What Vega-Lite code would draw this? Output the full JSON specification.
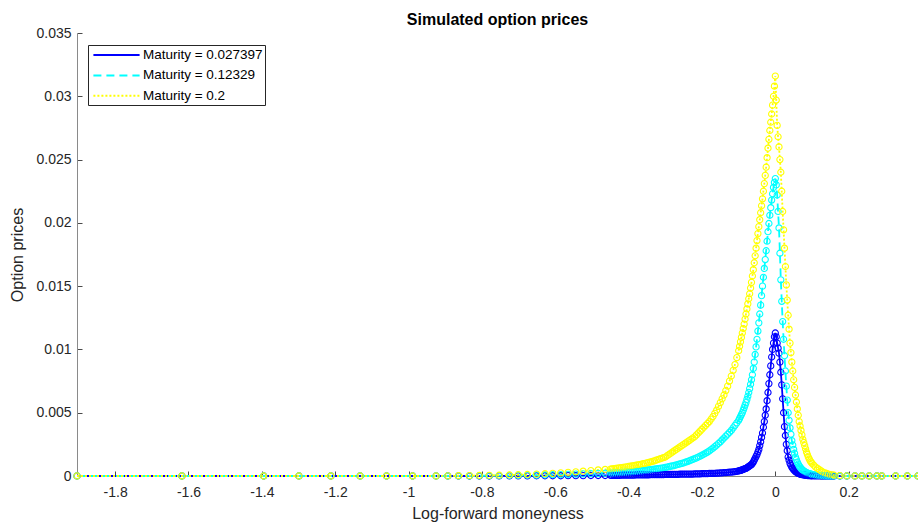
{
  "$schema": "https://vega.github.io/schema/vega-lite/v6.json",
  "width": 841,
  "height": 443,
  "autosize": {"type": "none"},
  "padding": {"left": 77, "top": 33, "right": 0, "bottom": 49},
  "background": "white",
  "config": {
    "font": "Liberation Sans",
    "view": {"stroke": null},
    "axis": {
      "grid": false,
      "domainColor": "#8a8a8a",
      "domainWidth": 1,
      "tickColor": "#4a4a4a",
      "tickWidth": 1,
      "tickSize": -5,
      "labelColor": "#262626",
      "labelFontSize": 14,
      "titleColor": "#262626",
      "titleFontSize": 16,
      "titleFontWeight": "normal"
    },
    "legend": {
      "orient": "none",
      "legendX": 11,
      "legendY": 12,
      "strokeColor": "#262626",
      "fillColor": "white",
      "padding": 2,
      "rowPadding": 5.4,
      "symbolType": "M-3.3,0H3.3",
      "symbolSize": 196,
      "symbolStrokeWidth": 2,
      "symbolOffset": 18.5,
      "labelOffset": 18.4,
      "labelFontSize": 13.5,
      "labelColor": "black",
      "title": null
    }
  },
  "title": {
    "text": "Simulated option prices",
    "fontSize": 16,
    "fontWeight": "bold",
    "color": "black",
    "anchor": "middle",
    "offset": -2
  },
  "data": {
    "values": [
      {"x": -1.904, "a": 0, "b": 0, "c": 0},
      {"x": -1.618, "a": 0, "b": 0, "c": 0},
      {"x": -1.395, "a": 0, "b": 0, "c": 0},
      {"x": -1.299, "a": 0, "b": 0, "c": 0},
      {"x": -1.212, "a": 0, "b": 0, "c": 0},
      {"x": -1.132, "a": 0, "b": 0, "c": 0},
      {"x": -1.06, "a": 0, "b": 0, "c": 0},
      {"x": -0.989, "a": 0, "b": 0, "c": 0},
      {"x": -0.925, "a": 0, "b": 0, "c": 0},
      {"x": -0.893, "a": 0, "b": 0, "c": 0.00001},
      {"x": -0.864, "a": 0, "b": 0.00001, "c": 0.00002},
      {"x": -0.834, "a": 0, "b": 0.00001, "c": 0.00003},
      {"x": -0.807, "a": 0, "b": 0.00002, "c": 0.00004},
      {"x": -0.78, "a": 0, "b": 0.00002, "c": 0.00005},
      {"x": -0.753, "a": 0.00001, "b": 0.00003, "c": 0.00006},
      {"x": -0.725, "a": 0.00001, "b": 0.00004, "c": 0.00008},
      {"x": -0.701, "a": 0.00001, "b": 0.00005, "c": 0.0001},
      {"x": -0.676, "a": 0.00001, "b": 0.00006, "c": 0.00012},
      {"x": -0.651, "a": 0.00002, "b": 0.00007, "c": 0.00015},
      {"x": -0.628, "a": 0.00002, "b": 0.00008, "c": 0.00018},
      {"x": -0.607, "a": 0.00002, "b": 0.0001, "c": 0.00021},
      {"x": -0.585, "a": 0.00002, "b": 0.00011, "c": 0.00025},
      {"x": -0.565, "a": 0.00003, "b": 0.00013, "c": 0.00029},
      {"x": -0.544, "a": 0.00003, "b": 0.00015, "c": 0.00033},
      {"x": -0.524, "a": 0.00003, "b": 0.00017, "c": 0.00038},
      {"x": -0.503, "a": 0.00004, "b": 0.00019, "c": 0.00043},
      {"x": -0.483, "a": 0.00004, "b": 0.00021, "c": 0.00048},
      {"x": -0.464, "a": 0.00004, "b": 0.00022, "c": 0.00052},
      {"x": -0.449, "a": 0.00005, "b": 0.00023, "c": 0.00055},
      {"x": -0.445, "a": 0.00005, "b": 0.00023, "c": 0.00056},
      {"x": -0.44, "a": 0.00005, "b": 0.00024, "c": 0.00058},
      {"x": -0.435, "a": 0.00005, "b": 0.00025, "c": 0.0006},
      {"x": -0.43, "a": 0.00005, "b": 0.00026, "c": 0.00062},
      {"x": -0.425, "a": 0.00005, "b": 0.00027, "c": 0.00064},
      {"x": -0.42, "a": 0.00006, "b": 0.00028, "c": 0.00066},
      {"x": -0.415, "a": 0.00006, "b": 0.00029, "c": 0.00068},
      {"x": -0.41, "a": 0.00006, "b": 0.0003, "c": 0.0007},
      {"x": -0.405, "a": 0.00006, "b": 0.00031, "c": 0.00072},
      {"x": -0.4, "a": 0.00007, "b": 0.00032, "c": 0.00075},
      {"x": -0.395, "a": 0.00007, "b": 0.00033, "c": 0.00077},
      {"x": -0.39, "a": 0.00007, "b": 0.00034, "c": 0.0008},
      {"x": -0.385, "a": 0.00007, "b": 0.00035, "c": 0.00082},
      {"x": -0.38, "a": 0.00008, "b": 0.00037, "c": 0.00085},
      {"x": -0.375, "a": 0.00008, "b": 0.00038, "c": 0.00087},
      {"x": -0.37, "a": 0.00008, "b": 0.0004, "c": 0.0009},
      {"x": -0.365, "a": 0.00008, "b": 0.00041, "c": 0.00093},
      {"x": -0.36, "a": 0.00009, "b": 0.00043, "c": 0.00097},
      {"x": -0.355, "a": 0.00009, "b": 0.00044, "c": 0.001},
      {"x": -0.35, "a": 0.00009, "b": 0.00046, "c": 0.00104},
      {"x": -0.345, "a": 0.00009, "b": 0.00048, "c": 0.00108},
      {"x": -0.34, "a": 0.0001, "b": 0.0005, "c": 0.00112},
      {"x": -0.335, "a": 0.0001, "b": 0.00052, "c": 0.00116},
      {"x": -0.33, "a": 0.0001, "b": 0.00054, "c": 0.0012},
      {"x": -0.325, "a": 0.0001, "b": 0.00056, "c": 0.00125},
      {"x": -0.32, "a": 0.00011, "b": 0.00058, "c": 0.0013},
      {"x": -0.315, "a": 0.00011, "b": 0.0006, "c": 0.00135},
      {"x": -0.31, "a": 0.00011, "b": 0.00063, "c": 0.0014},
      {"x": -0.305, "a": 0.00011, "b": 0.00065, "c": 0.00145},
      {"x": -0.3, "a": 0.00012, "b": 0.00068, "c": 0.0015},
      {"x": -0.295, "a": 0.00012, "b": 0.00071, "c": 0.0016},
      {"x": -0.29, "a": 0.00012, "b": 0.00074, "c": 0.0017},
      {"x": -0.285, "a": 0.00012, "b": 0.00077, "c": 0.0018},
      {"x": -0.28, "a": 0.00013, "b": 0.0008, "c": 0.0019},
      {"x": -0.275, "a": 0.00013, "b": 0.00083, "c": 0.002},
      {"x": -0.27, "a": 0.00013, "b": 0.00087, "c": 0.0021},
      {"x": -0.265, "a": 0.00013, "b": 0.00091, "c": 0.0022},
      {"x": -0.26, "a": 0.00014, "b": 0.00095, "c": 0.0023},
      {"x": -0.255, "a": 0.00014, "b": 0.001, "c": 0.0024},
      {"x": -0.25, "a": 0.00014, "b": 0.00104, "c": 0.0025},
      {"x": -0.245, "a": 0.00014, "b": 0.00109, "c": 0.0026},
      {"x": -0.24, "a": 0.00015, "b": 0.00114, "c": 0.0027},
      {"x": -0.235, "a": 0.00015, "b": 0.0012, "c": 0.0028},
      {"x": -0.23, "a": 0.00015, "b": 0.00125, "c": 0.0029},
      {"x": -0.225, "a": 0.00015, "b": 0.00131, "c": 0.003},
      {"x": -0.22, "a": 0.00016, "b": 0.00137, "c": 0.0031},
      {"x": -0.215, "a": 0.00016, "b": 0.00143, "c": 0.00325},
      {"x": -0.21, "a": 0.00017, "b": 0.0015, "c": 0.0034},
      {"x": -0.205, "a": 0.00017, "b": 0.00157, "c": 0.00355},
      {"x": -0.2, "a": 0.00018, "b": 0.00164, "c": 0.0037},
      {"x": -0.195, "a": 0.00018, "b": 0.00172, "c": 0.00385},
      {"x": -0.19, "a": 0.00019, "b": 0.0018, "c": 0.004},
      {"x": -0.185, "a": 0.00019, "b": 0.00189, "c": 0.00415},
      {"x": -0.18, "a": 0.0002, "b": 0.00198, "c": 0.0043},
      {"x": -0.175, "a": 0.0002, "b": 0.00209, "c": 0.0045},
      {"x": -0.17, "a": 0.00021, "b": 0.0022, "c": 0.0047},
      {"x": -0.165, "a": 0.00021, "b": 0.00232, "c": 0.00495},
      {"x": -0.16, "a": 0.00022, "b": 0.00244, "c": 0.0052},
      {"x": -0.155, "a": 0.00023, "b": 0.00257, "c": 0.0055},
      {"x": -0.15, "a": 0.00024, "b": 0.0027, "c": 0.0058},
      {"x": -0.145, "a": 0.00025, "b": 0.00285, "c": 0.0061},
      {"x": -0.14, "a": 0.00026, "b": 0.003, "c": 0.0064},
      {"x": -0.135, "a": 0.00027, "b": 0.00315, "c": 0.00675},
      {"x": -0.13, "a": 0.00028, "b": 0.0033, "c": 0.0071},
      {"x": -0.125, "a": 0.0003, "b": 0.00345, "c": 0.0075},
      {"x": -0.12, "a": 0.00031, "b": 0.0036, "c": 0.0079},
      {"x": -0.115, "a": 0.00033, "b": 0.0038, "c": 0.00835},
      {"x": -0.11, "a": 0.00035, "b": 0.004, "c": 0.0088},
      {"x": -0.105, "a": 0.00037, "b": 0.0042, "c": 0.00935},
      {"x": -0.1, "a": 0.0004, "b": 0.0044, "c": 0.0099},
      {"x": -0.0975, "a": 0.00042, "b": 0.00455, "c": 0.01025},
      {"x": -0.095, "a": 0.00044, "b": 0.0047, "c": 0.0106},
      {"x": -0.0925, "a": 0.00046, "b": 0.00485, "c": 0.01095},
      {"x": -0.09, "a": 0.00049, "b": 0.005, "c": 0.0113},
      {"x": -0.0875, "a": 0.00052, "b": 0.0052, "c": 0.01165},
      {"x": -0.085, "a": 0.00055, "b": 0.0054, "c": 0.012},
      {"x": -0.0825, "a": 0.00058, "b": 0.0056, "c": 0.0124},
      {"x": -0.08, "a": 0.0006, "b": 0.0058, "c": 0.0128},
      {"x": -0.0775, "a": 0.00065, "b": 0.00605, "c": 0.0132},
      {"x": -0.075, "a": 0.0007, "b": 0.0063, "c": 0.0136},
      {"x": -0.0725, "a": 0.00075, "b": 0.0066, "c": 0.014},
      {"x": -0.07, "a": 0.0008, "b": 0.0069, "c": 0.0144},
      {"x": -0.0675, "a": 0.00085, "b": 0.00725, "c": 0.01485},
      {"x": -0.065, "a": 0.0009, "b": 0.0076, "c": 0.0153},
      {"x": -0.0625, "a": 0.001, "b": 0.008, "c": 0.0158},
      {"x": -0.06, "a": 0.0011, "b": 0.0085, "c": 0.0163},
      {"x": -0.0575, "a": 0.00125, "b": 0.009, "c": 0.01685},
      {"x": -0.055, "a": 0.0014, "b": 0.0096, "c": 0.0174},
      {"x": -0.0525, "a": 0.00155, "b": 0.0102, "c": 0.018},
      {"x": -0.05, "a": 0.0017, "b": 0.0108, "c": 0.0186},
      {"x": -0.0475, "a": 0.0019, "b": 0.01145, "c": 0.01915},
      {"x": -0.045, "a": 0.0021, "b": 0.0121, "c": 0.0197},
      {"x": -0.0425, "a": 0.0024, "b": 0.0128, "c": 0.02025},
      {"x": -0.04, "a": 0.0027, "b": 0.0135, "c": 0.0208},
      {"x": -0.0375, "a": 0.00305, "b": 0.01425, "c": 0.02135},
      {"x": -0.035, "a": 0.0034, "b": 0.015, "c": 0.0219},
      {"x": -0.0325, "a": 0.00385, "b": 0.0157, "c": 0.0225},
      {"x": -0.03, "a": 0.0043, "b": 0.0164, "c": 0.0231},
      {"x": -0.0275, "a": 0.0048, "b": 0.0171, "c": 0.02375},
      {"x": -0.025, "a": 0.0053, "b": 0.0178, "c": 0.0244},
      {"x": -0.0225, "a": 0.00595, "b": 0.01855, "c": 0.02515},
      {"x": -0.02, "a": 0.0066, "b": 0.0193, "c": 0.0259},
      {"x": -0.0175, "a": 0.0073, "b": 0.01995, "c": 0.0266},
      {"x": -0.015, "a": 0.008, "b": 0.0206, "c": 0.0273},
      {"x": -0.0125, "a": 0.0087, "b": 0.0212, "c": 0.02795},
      {"x": -0.01, "a": 0.0094, "b": 0.0218, "c": 0.0286},
      {"x": -0.0075, "a": 0.01, "b": 0.0223, "c": 0.0293},
      {"x": -0.005, "a": 0.0105, "b": 0.0228, "c": 0.03},
      {"x": -0.0025, "a": 0.011, "b": 0.0232, "c": 0.0308},
      {"x": 0, "a": 0.0113, "b": 0.0235, "c": 0.0316},
      {"x": 0.0025, "a": 0.011, "b": 0.023, "c": 0.0297},
      {"x": 0.005, "a": 0.0105, "b": 0.0222, "c": 0.0277},
      {"x": 0.0075, "a": 0.0101, "b": 0.0209, "c": 0.0268},
      {"x": 0.01, "a": 0.0097, "b": 0.0196, "c": 0.026},
      {"x": 0.0125, "a": 0.009, "b": 0.0176, "c": 0.025},
      {"x": 0.015, "a": 0.0082, "b": 0.0155, "c": 0.024},
      {"x": 0.0175, "a": 0.0072, "b": 0.0138, "c": 0.0225},
      {"x": 0.02, "a": 0.0061, "b": 0.0122, "c": 0.0209},
      {"x": 0.0225, "a": 0.005, "b": 0.0108, "c": 0.01945},
      {"x": 0.025, "a": 0.0039, "b": 0.0095, "c": 0.018},
      {"x": 0.0275, "a": 0.0032, "b": 0.0083, "c": 0.01655},
      {"x": 0.03, "a": 0.0025, "b": 0.0071, "c": 0.0151},
      {"x": 0.0325, "a": 0.002, "b": 0.006, "c": 0.0139},
      {"x": 0.035, "a": 0.0015, "b": 0.005, "c": 0.0127},
      {"x": 0.0375, "a": 0.00125, "b": 0.0044, "c": 0.0116},
      {"x": 0.04, "a": 0.001, "b": 0.0038, "c": 0.0105},
      {"x": 0.0425, "a": 0.00085, "b": 0.0033, "c": 0.00975},
      {"x": 0.045, "a": 0.0007, "b": 0.0028, "c": 0.009},
      {"x": 0.0475, "a": 0.0006, "b": 0.00245, "c": 0.0083},
      {"x": 0.05, "a": 0.0005, "b": 0.0021, "c": 0.0076},
      {"x": 0.0525, "a": 0.00042, "b": 0.0018, "c": 0.007},
      {"x": 0.055, "a": 0.00035, "b": 0.0015, "c": 0.0064},
      {"x": 0.0575, "a": 0.0003, "b": 0.0013, "c": 0.00585},
      {"x": 0.06, "a": 0.00025, "b": 0.0011, "c": 0.0053},
      {"x": 0.0625, "a": 0.00021, "b": 0.00095, "c": 0.0048},
      {"x": 0.065, "a": 0.00018, "b": 0.0008, "c": 0.0043},
      {"x": 0.0675, "a": 0.00015, "b": 0.0007, "c": 0.00395},
      {"x": 0.07, "a": 0.00013, "b": 0.0006, "c": 0.0036},
      {"x": 0.0725, "a": 0.00011, "b": 0.00052, "c": 0.00325},
      {"x": 0.075, "a": 0.0001, "b": 0.00045, "c": 0.0029},
      {"x": 0.0775, "a": 0.00008, "b": 0.0004, "c": 0.00265},
      {"x": 0.08, "a": 0.00007, "b": 0.00035, "c": 0.0024},
      {"x": 0.0825, "a": 0.00006, "b": 0.00031, "c": 0.00215},
      {"x": 0.085, "a": 0.00005, "b": 0.00027, "c": 0.0019},
      {"x": 0.0875, "a": 0.00004, "b": 0.00023, "c": 0.0017},
      {"x": 0.09, "a": 0.00004, "b": 0.0002, "c": 0.0015},
      {"x": 0.0925, "a": 0.00003, "b": 0.00018, "c": 0.00135},
      {"x": 0.095, "a": 0.00003, "b": 0.00016, "c": 0.0012},
      {"x": 0.0975, "a": 0.00002, "b": 0.00014, "c": 0.0011},
      {"x": 0.1, "a": 0.00002, "b": 0.00012, "c": 0.001},
      {"x": 0.105, "a": 0.00001, "b": 0.0001, "c": 0.00085},
      {"x": 0.11, "a": 0.00001, "b": 0.00008, "c": 0.0007},
      {"x": 0.115, "a": 0.00001, "b": 0.00006, "c": 0.0006},
      {"x": 0.12, "a": 0.00001, "b": 0.00005, "c": 0.0005},
      {"x": 0.125, "a": 0, "b": 0.00004, "c": 0.0004},
      {"x": 0.13, "a": 0, "b": 0.00003, "c": 0.0003},
      {"x": 0.135, "a": 0, "b": 0.00002, "c": 0.00025},
      {"x": 0.14, "a": 0, "b": 0.00002, "c": 0.0002},
      {"x": 0.145, "a": 0, "b": 0.00001, "c": 0.00015},
      {"x": 0.15, "a": 0, "b": 0.00001, "c": 0.0001},
      {"x": 0.155, "a": 0, "b": 0.00001, "c": 0.00008},
      {"x": 0.16, "a": 0, "b": 0.00001, "c": 0.00006},
      {"x": 0.176, "a": 0, "b": 0, "c": 0.00003},
      {"x": 0.195, "a": 0, "b": 0, "c": 0.00001},
      {"x": 0.217, "a": 0, "b": 0, "c": 0},
      {"x": 0.236, "a": 0, "b": 0, "c": 0},
      {"x": 0.256, "a": 0, "b": 0, "c": 0},
      {"x": 0.277, "a": 0, "b": 0, "c": 0},
      {"x": 0.29, "a": 0, "b": 0, "c": 0},
      {"x": 0.328, "a": 0, "b": 0, "c": 0},
      {"x": 0.36, "a": 0, "b": 0, "c": 0},
      {"x": 0.389, "a": 0, "b": 0, "c": 0}
    ]
  },
  "transform": [{"fold": ["a", "b", "c"], "as": ["s", "y"]}],
  "encoding": {
    "x": {
      "field": "x",
      "type": "quantitative",
      "title": "Log-forward moneyness",
      "scale": {"domain": [-1.904, 0.389], "nice": false, "zero": false},
      "axis": {
        "values": [-1.8, -1.6, -1.4, -1.2, -1, -0.8, -0.6, -0.4, -0.2, 0, 0.2],
        "labelExpr": "replace(format(datum.value, '.1~f'), '\u2212', '-')",
        "labelPadding": 14,
        "titlePadding": 6
      }
    },
    "y": {
      "field": "y",
      "type": "quantitative",
      "title": "Option prices",
      "scale": {"domain": [0, 0.035], "nice": false},
      "axis": {
        "values": [0, 0.005, 0.01, 0.015, 0.02, 0.025, 0.03, 0.035],
        "format": ".3~f",
        "labelPadding": 11,
        "titlePadding": 10
      }
    }
  },
  "layer": [
    {
      "mark": {"type": "line", "strokeWidth": 1.8},
      "encoding": {
        "color": {
          "field": "s",
          "type": "nominal",
          "scale": {"domain": ["a", "b", "c"], "range": ["#0000ff", "#00ffff", "#ffff00"]},
          "legend": {
            "labelExpr": "datum.value == 'a' ? 'Maturity = 0.027397' : datum.value == 'b' ? 'Maturity = 0.12329' : 'Maturity = 0.2'"
          }
        },
        "strokeDash": {
          "field": "s",
          "type": "nominal",
          "scale": {"domain": ["a", "b", "c"], "range": [[1, 0], [8, 5], [2, 2]]},
          "legend": {
            "labelExpr": "datum.value == 'a' ? 'Maturity = 0.027397' : datum.value == 'b' ? 'Maturity = 0.12329' : 'Maturity = 0.2'"
          }
        }
      }
    },
    {
      "mark": {"type": "point", "filled": false, "size": 38, "strokeWidth": 1.1, "opacity": 1},
      "encoding": {
        "color": {"field": "s", "type": "nominal", "legend": null}
      }
    }
  ]
}
